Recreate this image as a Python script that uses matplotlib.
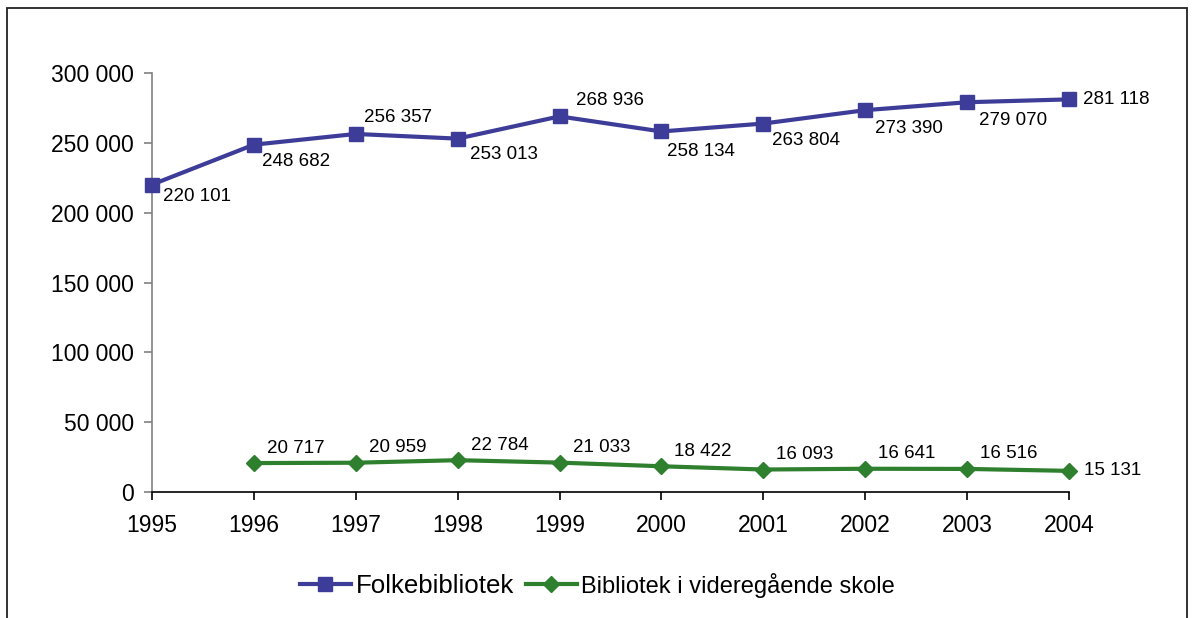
import matplotlib
matplotlib.use("Agg")
import matplotlib.pyplot as plt
from matplotlib.patches import Rectangle
from matplotlib.ticker import FuncFormatter

plt.rcParams['font.family'] = ['Liberation Sans', 'DejaVu Sans']

years = [1995, 1996, 1997, 1998, 1999, 2000, 2001, 2002, 2003, 2004]
folke = [220101, 248682, 256357, 253013, 268936, 258134, 263804, 273390, 279070, 281118]
vgs_years = [1996, 1997, 1998, 1999, 2000, 2001, 2002, 2003, 2004]
vgs = [20717, 20959, 22784, 21033, 18422, 16093, 16641, 16516, 15131]
yticks = [0, 50000, 100000, 150000, 200000, 250000, 300000]

# label offsets in pixels (dx, dy) for data labels
folke_off = [(11, -12), (8, -17), (8, 16), (12, -16), (16, 16), (6, -20), (9, -17), (10, -18), (12, -18), (14, 0)]
vgs_off = [(13, 15)] * 8 + [(15, 0)]

blue = '#3D3D99'
green = '#2E7F2E'

def fmt(v):
    return f"{int(v):,}".replace(",", " ")

fig = plt.figure(figsize=(11.93, 6.18), dpi=100)
ax = fig.add_axes([152/1193, 1-492/618, (1069-152)/1193, (492-73)/618])

ax.plot(years, folke, color=blue, lw=3, marker='s', ms=10, label='Folkebibliotek', clip_on=False, zorder=3)
ax.plot(vgs_years, vgs, color=green, lw=3, marker='D', ms=8, label='Bibliotek i videregående skole', clip_on=False, zorder=3)

for x, y, (dx, dy) in zip(years, folke, folke_off):
    ax.annotate(fmt(y), (x, y), xytext=(dx, dy), textcoords='offset pixels',
                ha='left', va='center', fontsize=13.5, annotation_clip=False)
for x, y, (dx, dy) in zip(vgs_years, vgs, vgs_off):
    ax.annotate(fmt(y), (x, y), xytext=(dx, dy), textcoords='offset pixels',
                ha='left', va='center', fontsize=13.5, annotation_clip=False)

ax.set_xlim(1995, 2004)
ax.set_ylim(0, 300000)
ax.set_xticks(years)
ax.set_yticks(yticks)
ax.yaxis.set_major_formatter(FuncFormatter(lambda v, p: fmt(v)))
ax.tick_params(axis='both', labelsize=16.5, direction='out', length=6, width=1.2, colors='#808080', labelcolor='black')
ax.tick_params(axis='x', colors='black', labelcolor='black', pad=10)
ax.tick_params(axis='y', pad=7)
for s in ['top', 'right']:
    ax.spines[s].set_visible(False)
ax.spines['left'].set_color('#808080')
ax.spines['left'].set_linewidth(1.2)
ax.spines['bottom'].set_color('black')
ax.spines['bottom'].set_linewidth(1.2)

leg = fig.legend(loc='center', bbox_to_anchor=(0.5008, 0.053), ncol=2, frameon=False,
                 fontsize=18.6, handlelength=1.97, handletextpad=0.19, columnspacing=0.46)
leg.get_texts()[1].set_fontsize(17)

fig.patches.append(Rectangle((7/1193, -0.1), (1187-7)/1193, 1.1 - 8/618, transform=fig.transFigure,
                             fill=False, edgecolor='#222222', lw=1.3, clip_on=False))

fig.savefig('out.png', dpi=100)
